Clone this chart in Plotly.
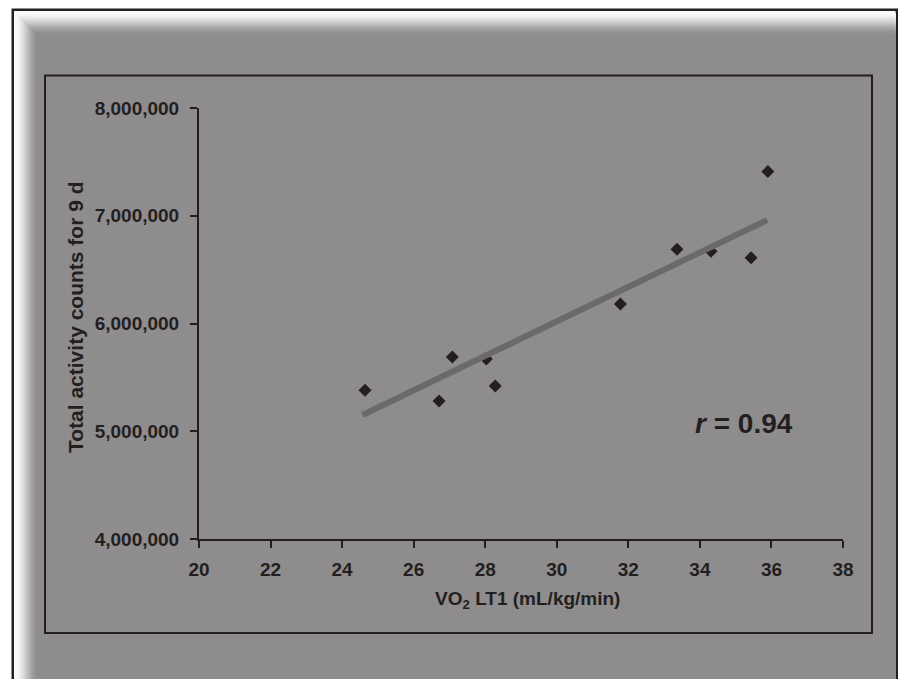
import plotly.graph_objects as go

# ---- data ----
vo2_lt1 = [24.64, 26.71, 27.08, 28.03, 28.28, 31.78, 33.36, 34.31, 35.43, 35.90]
activity_counts = [5380000, 5280000, 5690000, 5670000, 5420000, 6180000,
                   6690000, 6670000, 6610000, 7410000]
trend_x = [24.57, 35.88]
trend_y = [5151000, 6960000]
y_ticks = [4000000, 5000000, 6000000, 7000000, 8000000]
x_ticks = [20, 22, 24, 26, 28, 30, 32, 34, 36, 38]
r_label = "<i>r</i> = 0.94"

# ---- layout geometry (pixels) ----
W, H = 900, 679
ML, MR, MT, MB = 199, 57, 108, 140
PW, PH = W - ML - MR, H - MT - MB
INK = "#231f20"
GRAY = (143, 140, 141)


def px(x):
    return (x - ML) / PW


def py(y):
    return (H - MB - y) / PH


shapes = []
# outer frame with soft light shadow along top/left
shapes.append(dict(type="rect", xref="paper", yref="paper", layer="below",
                   x0=px(11.5), x1=px(898), y0=py(8.5), y1=py(700),
                   fillcolor=INK, line=dict(width=0)))
N = 24
for k in range(N + 1):
    t = k / N
    s = t * t * (3 - 2 * t)
    c = tuple(int(round(252 * (1 - s) + g * s)) for g in GRAY)
    shapes.append(dict(type="rect", xref="paper", yref="paper", layer="below",
                       x0=px(14 + k), x1=px(895.5), y0=py(11 + k), y1=py(700),
                       fillcolor="rgb(%d,%d,%d)" % c, line=dict(width=0)))
# inner box
shapes.append(dict(type="rect", xref="paper", yref="paper", layer="below",
                   x0=px(45), x1=px(872), y0=py(75.5), y1=py(633),
                   fillcolor="rgba(0,0,0,0)", line=dict(color=INK, width=2)))

fig = go.Figure()
fig.add_trace(go.Scatter(x=vo2_lt1, y=activity_counts, mode="markers",
                         marker=dict(symbol="diamond", size=10, color=INK,
                                     line=dict(width=0)),
                         showlegend=False))
fig.add_trace(go.Scatter(x=trend_x, y=trend_y, mode="lines",
                         line=dict(color="#6b696a", width=6),
                         hoverinfo="skip", showlegend=False))

font_family = "Liberation Sans, Arial, sans-serif"
fig.update_layout(
    width=W, height=H,
    margin=dict(l=ML, r=MR, t=MT, b=MB, pad=0),
    paper_bgcolor="white",
    plot_bgcolor="rgba(0,0,0,0)",
    shapes=shapes,
    font=dict(family=font_family, color=INK),
    xaxis=dict(range=[20, 38], tickvals=x_ticks, showgrid=False, zeroline=False,
               showline=True, linecolor=INK, linewidth=2, ticks="outside",
               ticklen=7, tickwidth=2, tickcolor=INK,
               tickfont=dict(size=19, weight="bold", color=INK),
               ticklabelstandoff=5),
    yaxis=dict(range=[4000000, 8000000], tickvals=y_ticks, tickformat=",d",
               showgrid=False, zeroline=False,
               showline=True, linecolor=INK, linewidth=2, ticks="outside",
               ticklen=7, tickwidth=2, tickcolor=INK,
               tickfont=dict(size=19, weight="bold", color=INK),
               ticklabelstandoff=7),
    annotations=[
        dict(text="VO<sub>2</sub> LT1 (mL/kg/min)", xref="paper", yref="paper",
             x=px(527), y=py(600), showarrow=False, xanchor="center", yanchor="middle",
             font=dict(size=19, weight="bold", color=INK)),
        dict(text="Total activity counts for 9 d", xref="paper", yref="paper",
             x=px(75), y=py(318), showarrow=False, textangle=-90,
             xanchor="center", yanchor="middle",
             font=dict(size=21, weight="bold", color=INK)),
        dict(text=r_label, xref="paper", yref="paper",
             x=px(744), y=py(423), showarrow=False, xanchor="center", yanchor="middle",
             font=dict(size=28, weight="bold", color=INK)),
    ],
)

fig.write_html("out.html")
